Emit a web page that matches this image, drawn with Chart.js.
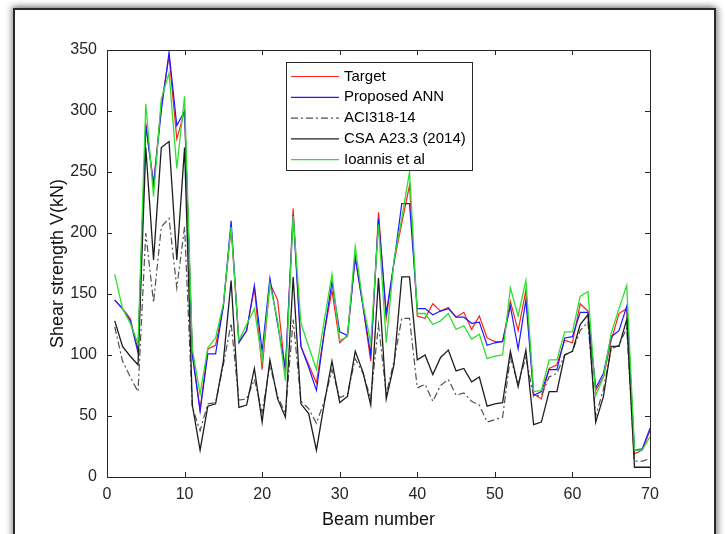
<!DOCTYPE html>
<html>
<head>
<meta charset="utf-8">
<script src="https://cdn.jsdelivr.net/npm/chart.js@4.4.1/dist/chart.umd.min.js"></script>
<style>
html, body { margin: 0; padding: 0; background: #fff; }
body { width: 725px; height: 534px; position: relative; overflow: hidden; }
#frame {
    position: absolute; left: 13px; top: 8px; width: 699px; height: 540px;
    border: 2px solid #2a2a2a; background: #fff;
    box-shadow: -2px -2px 6px rgba(0,0,0,0.35), 3px 0 6px rgba(0,0,0,0.35);
}
#wrap { position: absolute; left: 0; top: 0; width: 725px; height: 534px; }
</style>
</head>
<body>
<div id="frame"></div>
<div id="wrap"><canvas id="shearChart" width="725" height="534"></canvas></div>
<script>
// Beam numbers and tick values
const beams = [1,2,3,4,5,6,7,8,9,10, 11,12,13,14,15,16,17,18,19,20,
    21,22,23,24,25,26,27,28,29,30, 31,32,33,34,35,36,37,38,39,40,
    41,42,43,44,45,46,47,48,49,50, 51,52,53,54,55,56,57,58,59,60,
    61,62,63,64,65,66,67,68,69,70];
const xTicks = [0, 10, 20, 30, 40, 50, 60, 70];
const yTicks = [0, 50, 100, 150, 200, 250, 300, 350];

// Shear strength V (kN) per beam
const target = [145,138,130,104,290,240,305,345,277,300, 102,55,105,108,140,205,111,120,155,88,
    159,145,85,220,107,92,77,118,153,110, 116,180,140,95,217,130,176,208,239,132,
    130,142,136,139,131,135,121,132,114,111, 111,144,120,153,68,64,89,92,112,110,
    142,136,71,82,112,134,138,19,22,38];
const ann = [145,138,128,102,288,240,300,348,288,300, 100,54,101,101,140,210,110,120,157,103,
    163,125,89,215,107,90,71,118,160,119, 116,180,140,100,212,134,176,224,224,138,
    138,133,136,138,131,131,126,127,108,110, 111,140,105,145,67,70,88,88,114,115,
    135,135,73,85,115,120,140,22,23,40];
const aci = [123,95,82,70,200,143,205,212,155,205, 57,38,60,61,92,126,63,64,80,53,
    92,66,52,129,62,56,44,62,88,65, 68,97,85,64,125,68,95,130,130,73,
    76,62,75,80,67,69,62,59,45,47, 49,98,76,98,66,67,82,85,100,103,
    120,127,50,72,105,108,122,13,13,15];
const csa = [128,107,99,92,270,178,270,275,178,270, 59,22,58,60,95,161,57,59,89,45,
    96,64,49,164,60,52,22,60,95,61, 66,103,86,59,163,64,92,164,164,96,
    100,84,98,104,87,89,78,82,58,60, 61,103,74,104,43,45,70,70,100,103,
    125,133,45,66,107,107,129,8,8,8];
const ioannis = [166,138,126,109,306,230,310,331,253,312, 105,68,106,114,142,205,112,125,138,95,
    158,128,79,214,126,107,88,128,166,112, 115,189,142,110,207,110,178,212,250,134,
    134,125,128,134,121,124,113,117,97,99, 100,155,132,161,70,71,96,96,119,119,
    148,152,67,82,118,138,157,22,22,33];

const axisColor = '#262626';
const fontFamily = '"Liberation Sans", Arial, sans-serif';

function pts(values) {
    return values.map((v, i) => ({ x: beams[i], y: v }));
}

// MATLAB style box, inward ticks and legend
const matlabBox = {
    id: 'matlabBox',
    afterDatasetsDraw(chart) {
        const { ctx, chartArea: a, scales: { x, y } } = chart;
        ctx.save();
        ctx.strokeStyle = axisColor;
        ctx.lineWidth = 1;
        ctx.strokeRect(Math.round(a.left) + 0.5, Math.round(a.top) + 0.5,
            Math.round(a.right - a.left), Math.round(a.bottom - a.top));
        ctx.beginPath();
        x.ticks.forEach(t => {
            const px = Math.round(x.getPixelForValue(t.value)) + 0.5;
            ctx.moveTo(px, a.bottom); ctx.lineTo(px, a.bottom - 5);
            ctx.moveTo(px, a.top); ctx.lineTo(px, a.top + 5);
        });
        y.ticks.forEach(t => {
            const py = Math.round(y.getPixelForValue(t.value)) + 0.5;
            ctx.moveTo(a.left, py); ctx.lineTo(a.left + 5, py);
            ctx.moveTo(a.right, py); ctx.lineTo(a.right - 5, py);
        });
        ctx.stroke();

        // legend box
        const lx = 286, ly = 62, lw = 186, lh = 108;
        ctx.fillStyle = '#fff';
        ctx.fillRect(lx, ly, lw, lh);
        ctx.strokeStyle = axisColor;
        ctx.strokeRect(lx + 0.5, ly + 0.5, lw, lh);
        ctx.font = '15px ' + fontFamily;
        ctx.textBaseline = 'middle';
        ctx.textAlign = 'left';
        chart.data.datasets.forEach((ds, i) => {
            const yy = ly + 14.5 + i * 20.8;
            ctx.beginPath();
            ctx.strokeStyle = ds.borderColor;
            ctx.lineWidth = ds.borderWidth;
            ctx.setLineDash(ds.borderDash || []);
            ctx.moveTo(291, yy); ctx.lineTo(339, yy);
            ctx.stroke();
            ctx.setLineDash([]);
            ctx.fillStyle = '#000';
            ctx.fillText(ds.label, 344, yy);
        });
        ctx.restore();
    }
};

document.addEventListener('DOMContentLoaded', function() {
    const ctx = document.getElementById('shearChart').getContext('2d');
    new Chart(ctx, {
        type: 'line',
        data: {
            datasets: [
                { label: 'Target', data: pts(target), borderColor: '#ff1f1f', borderWidth: 1.2, order: 5 },
                { label: 'Proposed ANN', data: pts(ann), borderColor: '#1a1aff', borderWidth: 1.2, order: 4 },
                { label: 'ACI318-14', data: pts(aci), borderColor: '#505050', borderWidth: 1.2, borderDash: [7, 3, 2, 3], order: 3 },
                { label: 'CSA A23.3 (2014)', data: pts(csa), borderColor: '#1e1e1e', borderWidth: 1.3, order: 2 },
                { label: 'Ioannis et al', data: pts(ioannis), borderColor: '#2ee02e', borderWidth: 1.3, order: 1 }
            ]
        },
        options: {
            responsive: false,
            animation: false,
            layout: { padding: { left: 0, top: 50, right: 75, bottom: 0 } },
            elements: { point: { radius: 0 }, line: { tension: 0, fill: false } },
            plugins: {
                legend: { display: false },
                tooltip: { enabled: false }
            },
            scales: {
                x: {
                    type: 'linear', min: 0, max: 70,
                    afterBuildTicks: s => { s.ticks = xTicks.map(v => ({ value: v })); },
                    afterFit: s => { s.height = 57; },
                    grid: { display: false, drawTicks: false },
                    border: { display: false },
                    ticks: { padding: 8, color: axisColor, font: { family: fontFamily, size: 16 }, maxRotation: 0 },
                    title: { display: true, text: 'Beam number', color: '#111',
                        font: { family: fontFamily, size: 18 }, padding: { top: 0, bottom: 3 } }
                },
                y: {
                    min: 0, max: 350,
                    afterBuildTicks: s => { s.ticks = yTicks.map(v => ({ value: v })); },
                    afterFit: s => { s.width = 107; },
                    grid: { display: false, drawTicks: false },
                    border: { display: false },
                    ticks: { padding: 10, color: axisColor, font: { family: fontFamily, size: 16 } },
                    title: { display: true, text: 'Shear strength V(kN)', color: '#111',
                        font: { family: fontFamily, size: 18 }, padding: { top: 47, bottom: 0 } }
                }
            }
        },
        plugins: [matlabBox]
    });
});
</script>
</body>
</html>
